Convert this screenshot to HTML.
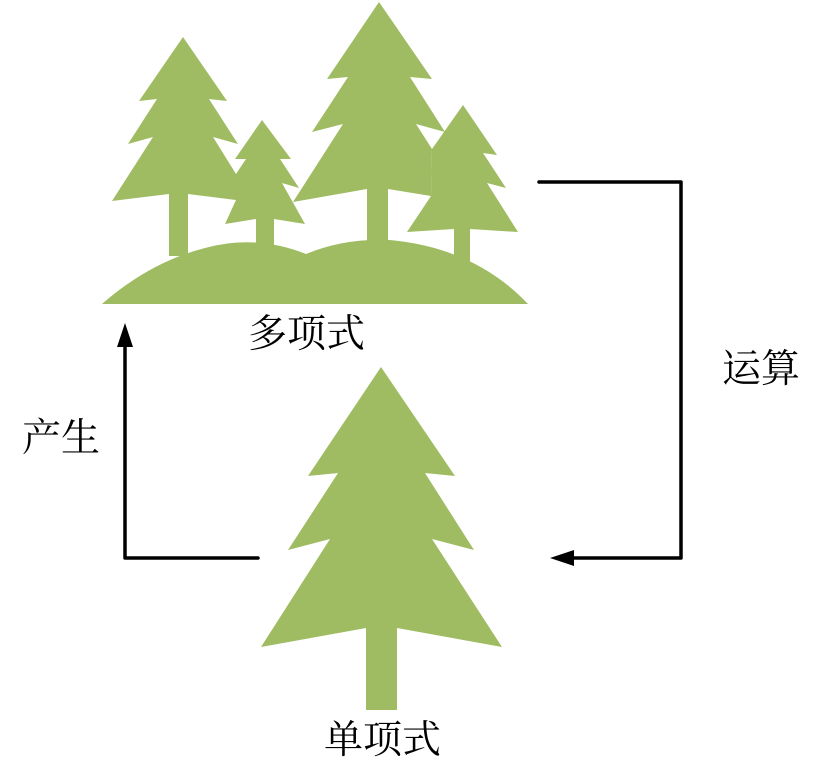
<!DOCTYPE html>
<html><head><meta charset="utf-8"><style>
html,body{margin:0;padding:0;background:#fff;}
svg{display:block;}
text{font-family:"Liberation Serif","Noto Serif CJK SC","Noto Sans CJK SC",serif;font-size:39px;fill:#000;}
</style></head><body>
<svg width="822" height="781" viewBox="0 0 822 781" xmlns="http://www.w3.org/2000/svg">
<g fill="#9fbc62">
<path d="M102,304 Q150,262 205,248 Q255,234 306,254 Q345,238 390,240 Q475,248 528,304 Z"/>
<polygon points="183,37 227,101 209,99 238,144 213,137 236,174 236,200 188,194 188,256 169,256 169,194 112,201 153,137 128,144 157,99 139,101"/>
<polygon points="262,120 291,159 280,159 299,188 282,183 305,224 274,219 274,245 256,245 256,219 225,224 236,200 236,174 246,159 235,159"/>
<polygon points="379,2 432,79 410,77 445,132 416,124 432,149 431,196 388,189 388,245 367,245 367,189 293,202 343,124 312,132 348,77 327,79"/>
<polygon points="463,105 497,155 483,153 506,188 487,183 518,232 470,229 470,262 454,262 454,229 407,232 431,196 432,149"/>
<polygon points="381,367 455,476 425,473 474,550 432,539 502,647 397,628 397,710 366,710 366,628 261,647 330,539 288,550 338,473 308,476"/>
</g>
<g stroke="#000" stroke-width="3.5" fill="none" stroke-linejoin="round" stroke-linecap="round">
<polyline points="258,558 125,558 125,345"/>
<polyline points="539,182 681,182 681,558 570,558"/>
</g>
<polygon points="125,323 117,347 133,347" fill="#000"/>
<polygon points="550,558 574,550 574,566" fill="#000"/>
<text x="248" y="347">多项式</text>
<text x="324" y="753">单项式</text>
<text x="22" y="451">产生</text>
<text x="722" y="382">运算</text>
</svg>
</body></html>
